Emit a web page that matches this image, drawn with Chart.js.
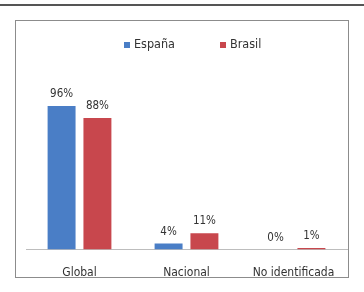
<!DOCTYPE html>
<html>
<head>
<meta charset="utf-8">
<script src="https://cdn.jsdelivr.net/npm/chart.js@4.4.1/dist/chart.umd.min.js"></script>
<style>
  html, body { margin: 0; padding: 0; background: #fff; }
  #page { position: relative; width: 364px; height: 292px; overflow: hidden; }
  #rule { position: absolute; left: 0; top: 4px; width: 364px; height: 2px; background: #555; }
  #frame { position: absolute; left: 15px; top: 20px; width: 332px; height: 256px; border: 1px solid #8c8c8c; }
  #chart { position: absolute; left: 0; top: 0; }
</style>
</head>
<body>
<div id="page">
  <div id="rule"></div>
  <div id="frame"></div>
  <canvas id="chart" width="364" height="292"></canvas>
</div>
<script>
// ================================
// DONNÉES
// ================================
const categorias = ['Global', 'Nacional', 'No identificada'];
const series = ['España', 'Brasil'];
const valoresEspana = [96, 4, 0];
const valoresBrasil = [88, 11, 1];
const colores = ['#4a7ec6', '#c8474d'];

const FUENTE = '"Liberation Sans Narrow", "DejaVu Sans Condensed", sans-serif';
const TEXTO = '#333333';

// étiquettes au-dessus des barres
const etiquettesPlugin = {
  id: 'etiquettes',
  afterDatasetsDraw(chart) {
    const ctx = chart.ctx;
    ctx.save();
    ctx.font = '11.5px ' + FUENTE;
    ctx.fillStyle = TEXTO;
    ctx.textAlign = 'center';
    ctx.textBaseline = 'bottom';
    chart.data.datasets.forEach(function(ds, i) {
      chart.getDatasetMeta(i).data.forEach(function(bar, j) {
        ctx.fillText(ds.data[j] + '%', bar.x, bar.y - 6);
      });
    });
    ctx.restore();
  }
};

// légende simple (carré + texte)
const leyendaPlugin = {
  id: 'leyenda',
  afterDraw(chart) {
    const ctx = chart.ctx;
    const posX = [124, 220];
    ctx.save();
    ctx.font = '12.5px ' + FUENTE;
    ctx.textBaseline = 'middle';
    chart.data.datasets.forEach(function(ds, i) {
      ctx.fillStyle = ds.backgroundColor;
      ctx.fillRect(posX[i], 42, 6, 6);
      ctx.fillStyle = TEXTO;
      ctx.fillText(ds.label, posX[i] + 10, 45);
    });
    ctx.restore();
  }
};

new Chart(document.getElementById('chart'), {
  type: 'bar',
  data: {
    labels: categorias,
    datasets: [
      { label: series[0], data: valoresEspana, backgroundColor: colores[0],
        barPercentage: 0.78, categoryPercentage: 0.67 },
      { label: series[1], data: valoresBrasil, backgroundColor: colores[1],
        barPercentage: 0.78, categoryPercentage: 0.67 }
    ]
  },
  options: {
    responsive: false,
    animation: false,
    layout: { padding: { left: 26, right: 17, top: 100, bottom: -4 } },
    scales: {
      x: {
        grid: { display: false, drawTicks: false },
        border: { display: true, color: '#bdbdbd', width: 1 },
        ticks: { padding: 16, color: TEXTO, font: { family: FUENTE, size: 12 } }
      },
      y: {
        display: false,
        min: 0,
        max: 100
      }
    },
    plugins: {
      legend: { display: false },
      tooltip: { enabled: false }
    }
  },
  plugins: [etiquettesPlugin, leyendaPlugin]
});
</script>
</body>
</html>
